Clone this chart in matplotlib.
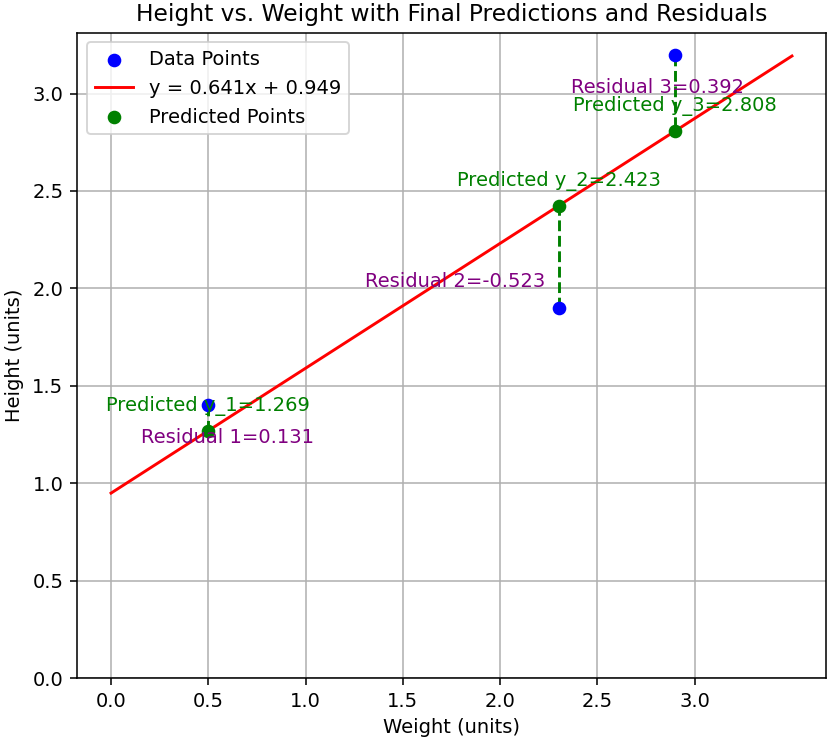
import numpy as np
import matplotlib
matplotlib.use("Agg")
import matplotlib.pyplot as plt

# data
weight = [0.5, 2.3, 2.9]
height = [1.4, 1.9, 3.2]
slope = 0.641
intercept = 0.949
predicted = [1.269, 2.423, 2.808]
residuals = [0.131, -0.523, 0.392]
x_ticks = [0.0, 0.5, 1.0, 1.5, 2.0, 2.5, 3.0]

# label offsets (hand placed, relative to each point)
res_dx = [0.10, -0.53, -0.09]
res_dy = [-0.13, -0.155, 0.0]

DPI = 140
fig = plt.figure(figsize=(828 / DPI, 741 / DPI), dpi=DPI)
ax = fig.add_axes([0.093, 0.085, 0.9046, 0.871])

x_line = np.linspace(0, 3.5, 100)
y_line = slope * x_line + intercept

ax.scatter(weight, height, color="blue", label="Data Points", zorder=3)
ax.plot(x_line, y_line, color="red", label=f"y = {slope}x + {intercept}")
ax.scatter(weight, predicted, color="green", label="Predicted Points", zorder=3)

for i, (x, y, p, r) in enumerate(zip(weight, height, predicted, residuals)):
    ax.plot([x, x], [y, p], "g--")
    ax.text(x, p + 0.1, f"Predicted y_{i + 1}={p:.3f}", color="green",
            ha="center", fontsize=10)
    mid = (y + p) / 2
    ax.text(x + res_dx[i], mid + res_dy[i], f"Residual {i + 1}={r:.3f}",
            color="purple", ha="center", fontsize=10)

ax.set_xticks(x_ticks)
ax.set_ylim(bottom=0)
ax.set_title("Height vs. Weight with Final Predictions and Residuals")
ax.set_xlabel("Weight (units)")
ax.set_ylabel("Height (units)")
ax.legend(loc="upper left")
ax.grid(True)

fig.savefig("out.png", dpi=DPI)
